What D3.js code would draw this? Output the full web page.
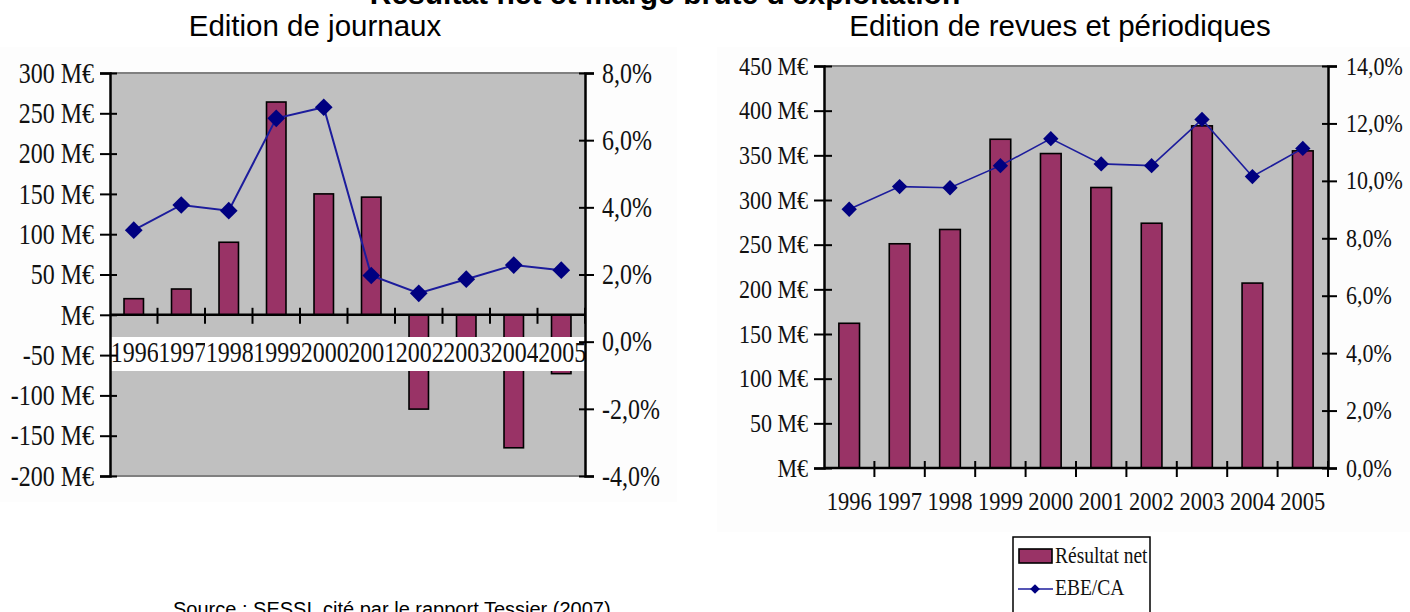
<!DOCTYPE html>
<html>
<head>
<meta charset="utf-8">
<script src="https://cdn.jsdelivr.net/npm/d3@7"></script>
<style>
  body { margin: 0; background: #fff; }
  svg { display: block; }
</style>
</head>
<body>
<script>
// data
var years = ["1996","1997","1998","1999","2000","2001","2002","2003","2004","2005"];

// Edition de journaux
var journauxResultat = [20, 32, 90, 264, 150, 146, -117, -50, -165, -73];   // M€
var journauxEbe = [3.32, 4.07, 3.90, 6.65, 6.98, 1.97, 1.44, 1.86, 2.28, 2.13]; // %
var journauxLeftTicks = [-200, -150, -100, -50, 0, 50, 100, 150, 200, 250, 300];
var journauxRightTicks = [-4, -2, 0, 2, 4, 6, 8];

// Edition de revues et périodiques
var revuesResultat = [162, 251, 267, 368, 352, 314, 274, 383, 207, 355];
var revuesEbe = [9.01, 9.80, 9.76, 10.53, 11.47, 10.59, 10.53, 12.14, 10.15, 11.13];
var revuesLeftTicks = [0, 50, 100, 150, 200, 250, 300, 350, 400, 450];
var revuesRightTicks = [0, 2, 4, 6, 8, 10, 12, 14];

var legendLabels = ["Résultat net", "EBE/CA"];

var W = 1410, H = 612;
var barColor = "#993366";
var lineColor = "#1c1c9c";
var markColor = "#000080";
var serif = "'Liberation Serif', 'Times New Roman', serif";
var sans = "'Liberation Sans', Arial, sans-serif";

var svg = d3.select("body").append("svg")
    .attr("width", W)
    .attr("height", H);

function fmtMe(d) { return d === 0 ? "M€" : d + " M€"; }
function fmtPct(d) { return (d < 0 ? "-" : "") + Math.abs(d).toFixed(1).replace(".", ",") + "%"; }

// very faint frames behind each chart
svg.append("rect").attr("x", 0).attr("y", 47).attr("width", 677).attr("height", 455).attr("fill", "#fdfdfd");
svg.append("rect").attr("x", 717).attr("y", 47).attr("width", 693).attr("height", 485).attr("fill", "#fdfdfd");

// titles
svg.append("text")
    .attr("x", 665).attr("y", 4)
    .attr("text-anchor", "middle")
    .attr("font-family", sans).attr("font-weight", "bold").attr("font-size", "30px")
    .text("Résultat net et marge brute d'exploitation");
svg.append("text")
    .attr("x", 315).attr("y", 36)
    .attr("text-anchor", "middle")
    .attr("font-family", sans).attr("font-size", "29.5px")
    .text("Edition de journaux");
svg.append("text")
    .attr("x", 1060).attr("y", 36)
    .attr("text-anchor", "middle")
    .attr("font-family", sans).attr("font-size", "29.5px")
    .text("Edition de revues et périodiques");

function drawPanel(p) {
    var g = svg.append("g");

    var x = d3.scaleBand().domain(years).range([p.x0, p.x1]).padding(0);
    var yL = d3.scaleLinear().domain(p.leftDomain).range([p.y1, p.y0]);
    var yR = d3.scaleLinear().domain(p.rightDomain).range([p.y1, p.y0]);

    // plot area
    g.append("rect")
        .attr("x", p.x0).attr("y", p.y0)
        .attr("width", p.x1 - p.x0).attr("height", p.y1 - p.y0)
        .attr("fill", "#c0c0c0");
    g.append("line").attr("x1", p.x0).attr("x2", p.x1).attr("y1", p.y0).attr("y2", p.y0)
        .attr("stroke", "#808080").attr("stroke-width", 2);
    g.append("line").attr("x1", p.x0).attr("x2", p.x1).attr("y1", p.y1).attr("y2", p.y1)
        .attr("stroke", "#808080").attr("stroke-width", 2);

    // bars
    var bw = x.bandwidth() * 0.41;
    g.selectAll("rect.bar")
        .data(p.bars)
        .enter()
        .append("rect")
        .attr("class", "bar")
        .attr("x", function(d, i) { return x(years[i]) + x.bandwidth() / 2 - bw / 2; })
        .attr("y", function(d) { return yL(Math.max(0, d)); })
        .attr("width", bw)
        .attr("height", function(d) { return Math.abs(yL(d) - yL(0)); })
        .attr("fill", barColor)
        .attr("stroke", "#000")
        .attr("stroke-width", 1.6);

    // category labels (each on its own white box, later ones cover earlier ones)
    if (p.labelBand) {
        g.append("rect")
            .attr("x", p.x0 - 2).attr("y", p.labelBand[0])
            .attr("width", p.x1 - p.x0 + 4).attr("height", p.labelBand[1] - p.labelBand[0])
            .attr("fill", "#fff");
    }
    years.forEach(function(yr, i) {
        if (p.labelBand && i > 0) {
            g.append("rect")
                .attr("x", x(yr)).attr("y", p.labelBand[0])
                .attr("width", x.bandwidth() + (i === years.length - 1 ? 2 : 0))
                .attr("height", p.labelBand[1] - p.labelBand[0])
                .attr("fill", "#fff")
                .attr("shape-rendering", "crispEdges");
        }
        g.append("text")
            .attr("transform", "translate(" + (x(yr) + x.bandwidth() / 2 + (p.labelShift || 0)) + "," + p.labelY + ") scale(1," + p.scaleY + ")")
            .attr("text-anchor", "middle")
            .attr("font-family", serif)
            .attr("font-size", p.catSize + "px")
            .attr("fill", "#111")
            .text(yr);
    });

    // left axis
    var axL = g.append("g")
        .attr("transform", "translate(" + p.x0 + ",0)")
        .call(d3.axisLeft(yL).tickValues(p.leftTicks).tickFormat(fmtMe).tickSizeOuter(0).tickSize(10).tickPadding(6));
    axL.select(".domain").attr("stroke", "#000").attr("stroke-width", 2.5);
    axL.selectAll(".tick line").attr("x1", p.tickIn).attr("stroke-width", 2);
    axL.selectAll(".tick text")
        .attr("font-family", serif).attr("font-size", p.axisSize + "px").attr("fill", "#111")
        .attr("transform", "scale(1," + p.scaleY + ")");

    // right axis
    var axR = g.append("g")
        .attr("transform", "translate(" + p.x1 + ",0)")
        .call(d3.axisRight(yR).tickValues(p.rightTicks).tickFormat(fmtPct).tickSizeOuter(0).tickSize(9).tickPadding(p.rightPad));
    axR.select(".domain").attr("stroke", "#000").attr("stroke-width", 2.5);
    axR.selectAll(".tick line").attr("x1", -6).attr("stroke-width", 2);
    axR.selectAll(".tick text")
        .attr("font-family", serif).attr("font-size", p.pctSize + "px").attr("fill", "#111")
        .attr("transform", "scale(1," + p.scaleY + ")");

    // x axis on the zero line, ticks at category edges
    var y0 = yL(0);
    g.append("line").attr("x1", p.x0).attr("x2", p.x1).attr("y1", y0).attr("y2", y0)
        .attr("stroke", "#000").attr("stroke-width", 2.5);
    g.selectAll("line.xt")
        .data(years)
        .enter()
        .append("line")
        .attr("class", "xt")
        .attr("x1", function(d) { return x(d) + x.bandwidth(); })
        .attr("x2", function(d) { return x(d) + x.bandwidth(); })
        .attr("y1", y0 - 7).attr("y2", y0 + 9)
        .attr("stroke", "#000").attr("stroke-width", 2);

    // EBE/CA line
    var line = d3.line()
        .x(function(d, i) { return x(years[i]) + x.bandwidth() / 2; })
        .y(function(d) { return yR(d); });
    g.append("path")
        .datum(p.line)
        .attr("d", line)
        .attr("fill", "none")
        .attr("stroke", lineColor)
        .attr("stroke-width", p.lineW);
    g.selectAll("path.mk")
        .data(p.line)
        .enter()
        .append("path")
        .attr("class", "mk")
        .attr("d", d3.symbol(d3.symbolDiamond2, p.markSize))
        .attr("transform", function(d, i) {
            return "translate(" + (x(years[i]) + x.bandwidth() / 2) + "," + yR(d) + ")";
        })
        .attr("fill", markColor);
}

drawPanel({
    x0: 110, x1: 585, y0: 73, y1: 476,
    leftDomain: [-200, 300], rightDomain: [-4, 8],
    leftTicks: journauxLeftTicks, rightTicks: journauxRightTicks,
    bars: journauxResultat, line: journauxEbe,
    labelBand: [337, 371], labelY: 362, labelShift: 1,
    catSize: 24, axisSize: 24, pctSize: 24, scaleY: 1.2,
    tickIn: 7, rightPad: 8, lineW: 2, markSize: 200
});

drawPanel({
    x0: 824, x1: 1328, y0: 66, y1: 468,
    leftDomain: [0, 450], rightDomain: [0, 14],
    leftTicks: revuesLeftTicks, rightTicks: revuesRightTicks,
    bars: revuesResultat, line: revuesEbe,
    labelBand: null, labelY: 510,
    catSize: 22.5, axisSize: 22, pctSize: 22, scaleY: 1.15,
    tickIn: 8, rightPad: 9, lineW: 1.6, markSize: 150
});

// legend
var lg = svg.append("g").attr("transform", "translate(1013,537)");
lg.append("rect").attr("x", 0).attr("y", 0).attr("width", 137).attr("height", 90)
    .attr("fill", "#fff").attr("stroke", "#000").attr("stroke-width", 1.5);
lg.append("rect").attr("x", 6).attr("y", 12).attr("width", 33).attr("height", 14)
    .attr("fill", barColor).attr("stroke", "#000").attr("stroke-width", 1.6);
lg.append("line").attr("x1", 5).attr("x2", 40).attr("y1", 52).attr("y2", 52)
    .attr("stroke", lineColor).attr("stroke-width", 1.6);
lg.append("path").attr("d", d3.symbol(d3.symbolDiamond2, 60))
    .attr("transform", "translate(22,52)").attr("fill", markColor);
lg.selectAll("text.lg")
    .data(legendLabels)
    .enter()
    .append("text")
    .attr("class", "lg")
    .attr("transform", function(d, i) { return "translate(42," + (26 + i * 32) + ") scale(1,1.2)"; })
    .attr("font-family", serif).attr("font-size", "19.5px").attr("fill", "#111")
    .text(function(d) { return d; });

// source
svg.append("text")
    .attr("x", 173).attr("y", 616)
    .attr("font-family", sans).attr("font-size", "20px")
    .text("Source : SESSI, cité par le rapport Tessier (2007)");
</script>
</body>
</html>
